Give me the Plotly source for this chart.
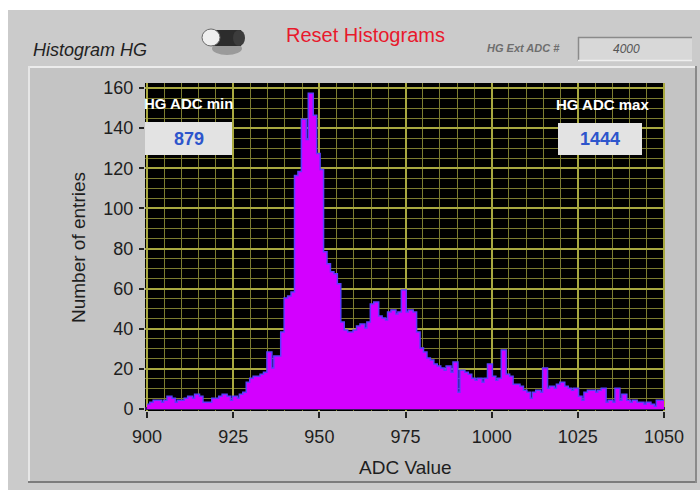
import plotly.graph_objects as go

# ---- histogram data: counts per 1-unit ADC bin, 900 .. 1049 ----
bin_start = list(range(900, 1050))
counts = [
    2, 3, 4, 4, 3, 4, 6, 5, 3, 4,            # 900-909
    4, 5, 6, 5, 7, 6, 3, 3, 3, 5,            # 910-919
    5, 6, 7, 6, 4, 6, 5, 7, 8, 13,           # 920-929
    15, 16, 16, 17, 18, 28, 20, 26, 26, 38,  # 930-939
    55, 56, 58, 116, 118, 144, 134, 157, 146, 127,  # 940-949
    119, 78, 72, 68, 67, 62, 43, 39, 38, 38,  # 950-959
    39, 41, 42, 40, 43, 52, 53, 46, 45, 44,   # 960-969
    48, 49, 47, 48, 59, 48, 49, 48, 38, 30,   # 970-979
    28, 25, 24, 22, 21, 20, 19, 21, 18, 23,   # 980-989
    8, 19, 18, 17, 15, 14, 15, 13, 15, 22,    # 990-999
    16, 14, 15, 29, 17, 16, 12, 12, 11, 9,    # 1000-1009
    8, 5, 8, 9, 8, 20, 10, 11, 10, 12,        # 1010-1019
    13, 11, 10, 9, 10, 6, 4, 8, 9, 9,         # 1020-1029
    8, 9, 10, 3, 4, 3, 10, 4, 7, 4,           # 1030-1039
    3, 4, 3, 3, 2, 3, 2, 1, 4, 4,             # 1040-1049
]
x_ticks = [900, 925, 950, 975, 1000, 1025, 1050]
y_ticks = [0, 20, 40, 60, 80, 100, 120, 140, 160]
adc_min = 879
adc_max = 1444
ext_adc = 4000

# step outline: bin edges with the last count repeated to close the final bin
edges = bin_start + [bin_start[-1] + 1]
steps = counts + [counts[-1]]

# ---- page geometry (pixels) ----
W, H = 700, 493
L, T, R, B = 145, 83, 665, 411


def fx(x):
    return (x - L) / (R - L)


def fy(y):
    return (B - y) / (B - T)


def rect(x0, y0, x1, y1, fill, layer="below"):
    return dict(type="rect", xref="paper", yref="paper",
                x0=fx(x0), x1=fx(x1), y0=fy(y1), y1=fy(y0),
                fillcolor=fill, layer=layer, line=dict(width=0))


def hline(x0, x1, y, color, w, layer="below"):
    return dict(type="line", xref="paper", yref="paper", layer=layer,
                x0=fx(x0), x1=fx(x1), y0=fy(y), y1=fy(y),
                line=dict(color=color, width=w))


def vline(x, y0, y1, color, w, layer="below"):
    return dict(type="line", xref="paper", yref="paper", layer=layer,
                x0=fx(x), x1=fx(x), y0=fy(y0), y1=fy(y1),
                line=dict(color=color, width=w))


def ellipse(x0, y0, x1, y1, fill, line=None, lw=0):
    return dict(type="circle", xref="paper", yref="paper", layer="above",
                x0=fx(x0), x1=fx(x1), y0=fy(y1), y1=fy(y0),
                fillcolor=fill, line=dict(width=lw, color=line or fill))


fig = go.Figure()

# blue outline of the histogram, drawn first so the fill hides its inner half
fig.add_trace(go.Scatter(
    x=edges, y=steps, mode="lines", line_shape="hv",
    line=dict(color="#5a3cff", width=3), hoverinfo="skip", showlegend=False))
# magenta filled histogram
fig.add_trace(go.Scatter(
    x=edges, y=steps, mode="lines", line_shape="hv", fill="tozeroy",
    fillcolor="#d300ff", line=dict(color="#d300ff", width=0.1),
    showlegend=False))

shapes = [
    # outer window and front-panel backgrounds
    rect(0, 0, 700, 493, "#ffffff"),
    rect(8, 10, 700, 490, "#cbcbcb"),
    rect(28, 66, 697, 483, "#c4c4c4"),
    hline(28, 697, 67, "#ececec", 2),
    vline(29, 66, 483, "#e6e6e6", 2),
    hline(28, 697, 482, "#7c7c7c", 2),
    vline(696, 66, 483, "#8a8a8a", 2),
    # plot area
    rect(L, T, R, B, "#000000"),
    # toggle switch
    ellipse(212, 42, 242, 55, "#9a9a9a"),
    rect(211, 30, 241, 46, "#2c2c2c", layer="above"),
    ellipse(233, 30, 245, 46, "#3c3c3c"),
    ellipse(202, 29, 220, 46, "#efefef", "#6a6a6a", 1),
    # HG Ext ADC # display box
    rect(578, 37, 692, 61, "#d8d8d8", layer="above"),
    hline(578, 692, 37.5, "#8a8a8a", 1.5, "above"),
    vline(578.5, 37, 61, "#8a8a8a", 1.5, "above"),
    hline(578, 692, 60.5, "#efefef", 1.5, "above"),
    # min / max indicator boxes
    rect(145, 122, 232, 155, "#e3e3e3", layer="above"),
    rect(558, 123, 642, 155, "#e3e3e3", layer="above"),
]
fig.update_layout(shapes=shapes)


def label(x, y, text, size, color, bold=False, italic=False,
          family="Liberation Sans", angle=0):
    if bold:
        text = "<b>" + text + "</b>"
    if italic:
        text = "<i>" + text + "</i>"
    fig.add_annotation(x=fx(x), y=fy(y), xref="paper", yref="paper",
                       text=text, showarrow=False, textangle=angle,
                       xanchor="center", yanchor="middle",
                       font=dict(size=size, color=color, family=family))


label(90, 50, "Histogram HG", 18, "#222222", italic=True)
label(365, 35, "Reset Histograms", 20, "#e8192c")
label(523, 48, "HG Ext ADC #", 11, "#6e6e6e", bold=True, italic=True)
label(626, 49, str(ext_adc), 12, "#555555", italic=True)
label(188, 104, "HG ADC min", 15, "#ffffff", bold=True)
label(189, 139, str(adc_min), 18, "#2d55cc", bold=True)
label(602, 105, "HG ADC max", 15, "#ffffff", bold=True)
label(600, 139, str(adc_max), 18, "#2d55cc", bold=True)
label(405, 467, "ADC Value", 19, "#1e1e1e")
label(78, 248, "Number of entries", 19, "#1e1e1e", angle=-90)

fig.update_xaxes(
    range=[899.4, 1050.3], tickvals=x_ticks, ticktext=[str(v) for v in x_ticks],
    ticks="outside", ticklen=6, tickwidth=1.5, tickcolor="#222222",
    tickfont=dict(size=18, color="#1e1e1e", family="Liberation Sans"),
    ticklabelstandoff=3,
    showgrid=True, gridcolor="#a8a840", gridwidth=1.5,
    minor=dict(dtick=5, tick0=900, showgrid=True, gridcolor="#7c7c30", gridwidth=1),
    zeroline=False, showline=False, fixedrange=True,
)
fig.update_yaxes(
    range=[-1, 162.5], tickvals=y_ticks, ticktext=[str(v) for v in y_ticks],
    ticks="outside", ticklen=5, tickwidth=1.5, tickcolor="#222222",
    tickfont=dict(size=18, color="#1e1e1e", family="Liberation Sans"),
    ticklabelstandoff=2,
    showgrid=True, gridcolor="#a8a840", gridwidth=1.5,
    minor=dict(dtick=5, tick0=0, showgrid=True, gridcolor="#7c7c30", gridwidth=1),
    zeroline=True, zerolinecolor="#3a1860", zerolinewidth=2.5,
    showline=False, fixedrange=True,
)

fig.update_layout(
    width=W, height=H,
    margin=dict(l=L, r=W - R, t=T, b=H - B),
    paper_bgcolor="#ffffff", plot_bgcolor="#000000",
    showlegend=False,
)

fig.write_html("out.html")
